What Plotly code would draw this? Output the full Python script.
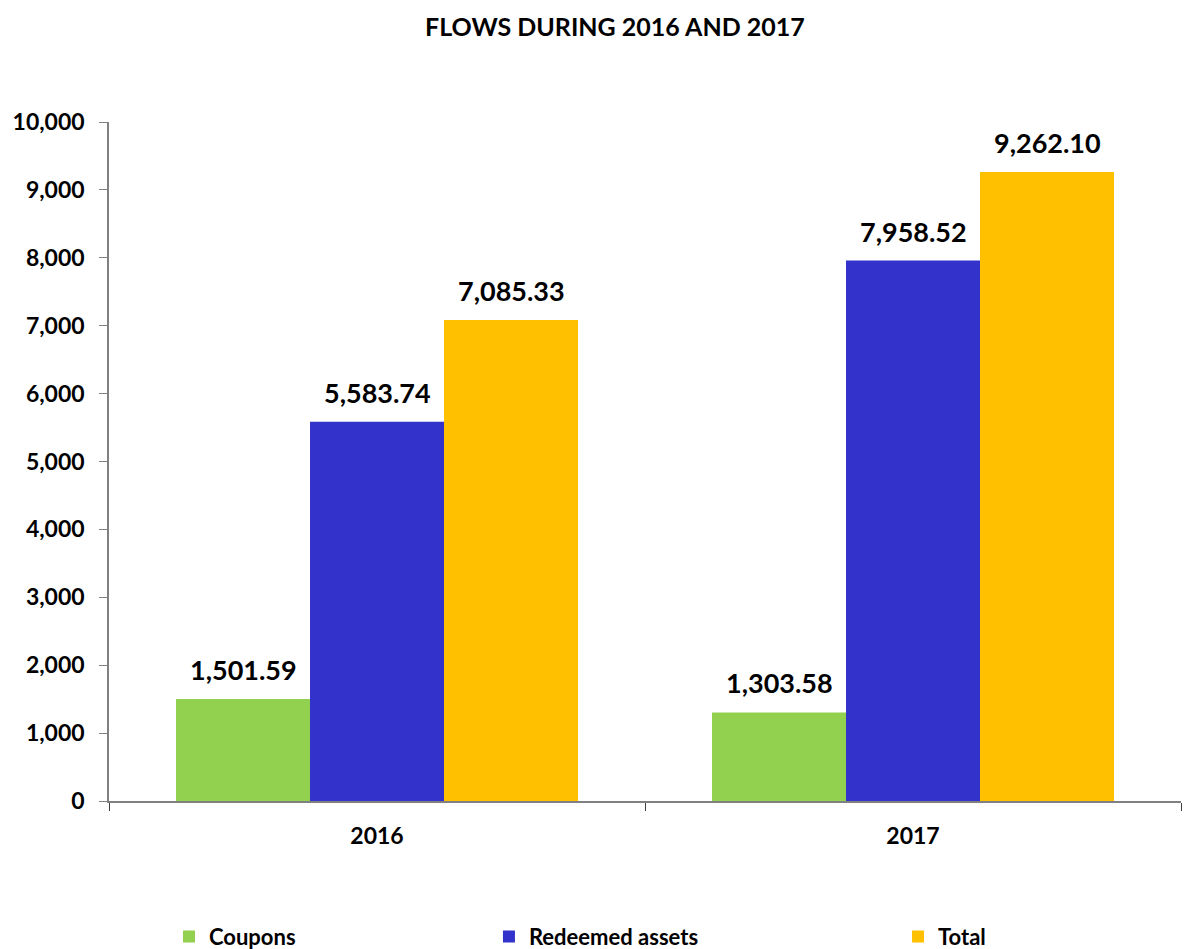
import plotly.graph_objects as go

categories = ["2016", "2017"]
coupons = [1501.59, 1303.58]
redeemed = [5583.74, 7958.52]
total = [7085.33, 9262.10]
series_names = ["Coupons", "Redeemed assets", "Total"]
colors = ["#92D050", "#3333CC", "#FFC000"]
y_ticks = [0, 1000, 2000, 3000, 4000, 5000, 6000, 7000, 8000, 9000, 10000]

FONT = "Lato"
W, H = 1182, 941
ML, MR, MT, MB = 101, 9, 114, 148
plot_w = W - ML - MR
bar_px = plot_w / len(categories) * 0.75 / 3

fig = go.Figure()
legend_ids = ["legend", "legend2", "legend3"]
all_vals = [coupons, redeemed, total]
for i, (name, vals, col, lg) in enumerate(zip(series_names, all_vals, colors, legend_ids)):
    fig.add_trace(go.Bar(
        x=categories, y=vals, name=name, marker=dict(color=col, line=dict(width=0)),
        legend=lg,
    ))
    for j, v in enumerate(vals):
        # on a category axis, annotation x is the category's serial index
        fig.add_annotation(x=j, y=v, xref="x", yref="y", text=f"<b>{v:,.2f}</b>",
                           showarrow=False, yanchor="bottom", xanchor="center",
                           xshift=(i - 1) * bar_px, yshift=11,
                           font=dict(family=FONT, size=27, color="black"))

legend_common = dict(orientation="h", yanchor="middle", y=-0.2, xref="container", yref="paper",
                     font=dict(family=FONT, size=22, color="black", weight="bold"),
                     bgcolor="rgba(0,0,0,0)", itemwidth=30, tracegroupgap=0)
fig.update_layout(
    width=W, height=H,
    margin=dict(l=ML, r=MR, t=MT, b=MB, autoexpand=False),
    paper_bgcolor="white", plot_bgcolor="white",
    title=dict(text="<b>FLOWS DURING 2016 AND 2017</b>", x=0.5135, xanchor="center", y=0.9798, yanchor="middle",
               font=dict(family=FONT, size=25, color="black")),
    barmode="group", bargap=0.25, bargroupgap=0,
    showlegend=True,
    legend=dict(**legend_common, x=0.1362, xanchor="left"),
    legend2=dict(**legend_common, x=0.4069, xanchor="left"),
    legend3=dict(**legend_common, x=0.7530, xanchor="left"),
)
fig.update_yaxes(range=[0, 10000], tickvals=y_ticks, tickformat=",", showgrid=False,
                 showline=True, linecolor="#808080", linewidth=1.5, ticks="outside", ticklen=8,
                 tickcolor="#808080", zeroline=False, ticklabelstandoff=10,
                 tickfont=dict(family=FONT, size=23, color="black", weight="bold"))
fig.update_xaxes(type="category", categoryorder="array", categoryarray=categories,
                 range=[-0.5, len(categories) - 0.5],
                 showline=True, linecolor="#808080", linewidth=1.5, ticks="outside", ticklen=8,
                 tickcolor="#404040", tickson="boundaries", showgrid=False, ticklabelstandoff=14,
                 tickfont=dict(family=FONT, size=23, color="black", weight="bold"))

fig.write_html("out.html")
